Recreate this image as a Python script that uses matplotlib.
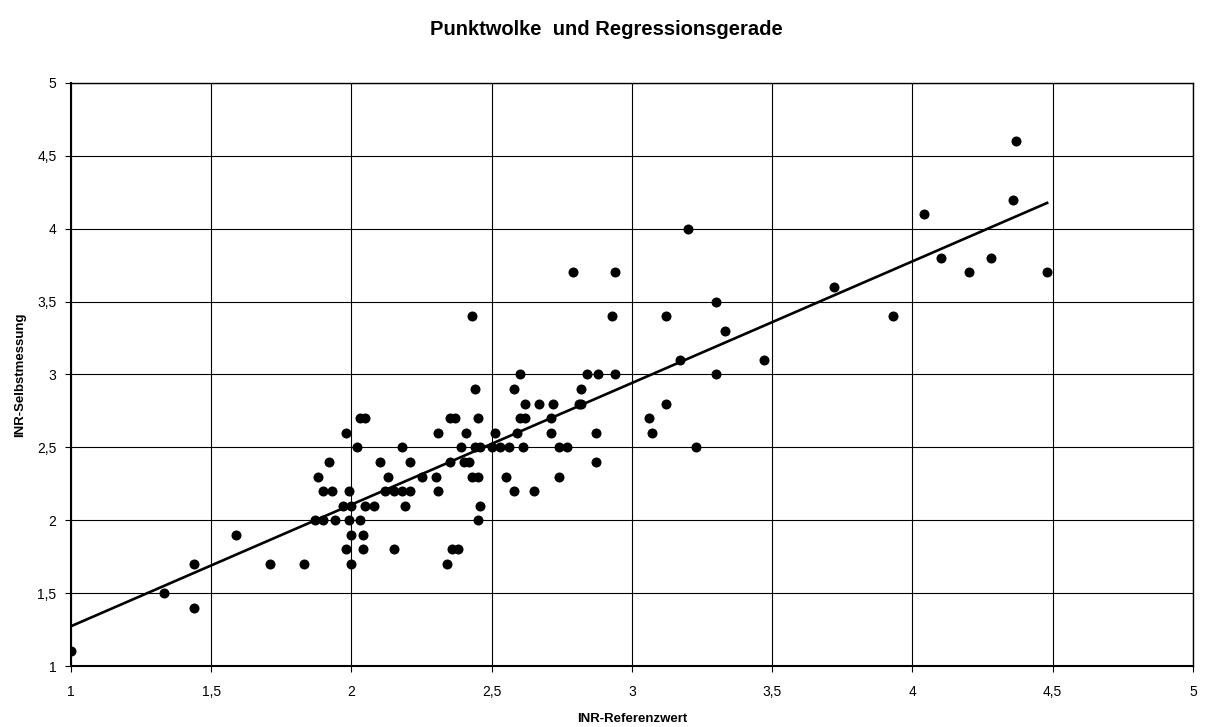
import numpy as np
import matplotlib
matplotlib.use("Agg")
import matplotlib.pyplot as plt

referenz = [
    1.00,
    1.44,
    1.33,
    1.44, 1.71, 1.83, 2.00, 2.34,
    1.98, 2.04, 2.15, 2.36, 2.38,
    1.59, 2.00, 2.04,
    1.87, 1.90, 1.94, 1.99, 2.03, 2.45,
    1.97, 2.00, 2.05, 2.08, 2.19, 2.46,
    1.90, 1.93, 1.99, 2.12, 2.15, 2.18, 2.21, 2.31, 2.58, 2.65,
    1.88, 2.13, 2.25, 2.30, 2.43, 2.45, 2.55, 2.74,
    1.92, 2.10, 2.21, 2.35, 2.40, 2.42, 2.87,
    2.02, 2.18, 2.39, 2.44, 2.46, 2.50, 2.53, 2.56, 2.61, 2.74, 2.77, 3.23,
    1.98, 2.31, 2.41, 2.51, 2.59, 2.71, 2.87, 3.07,
    2.03, 2.05, 2.35, 2.37, 2.45, 2.60, 2.62, 2.71, 3.06,
    2.62, 2.67, 2.72, 2.81, 2.82, 3.12,
    2.44, 2.58, 2.82,
    2.60, 2.84, 2.88, 2.94, 3.30,
    3.17, 3.47,
    3.33,
    2.43, 2.93, 3.12, 3.93,
    3.30,
    3.72,
    2.79, 2.94, 4.20, 4.48,
    4.10, 4.28,
    3.20,
    4.04,
    4.36,
    4.37,
]
selbst = (
    [1.1] * 1 + [1.4] * 1 + [1.5] * 1 + [1.7] * 5 + [1.8] * 5 + [1.9] * 3
    + [2.0] * 6 + [2.1] * 6 + [2.2] * 10 + [2.3] * 8 + [2.4] * 7
    + [2.5] * 12 + [2.6] * 8 + [2.7] * 9 + [2.8] * 6 + [2.9] * 3
    + [3.0] * 5 + [3.1] * 2 + [3.3] * 1 + [3.4] * 4 + [3.5] * 1
    + [3.6] * 1 + [3.7] * 4 + [3.8] * 2 + [4.0] * 1 + [4.1] * 1
    + [4.2] * 1 + [4.6] * 1
)

ticks = [1, 1.5, 2, 2.5, 3, 3.5, 4, 4.5, 5]
tick_labels = ["1", "1,5", "2", "2,5", "3", "3,5", "4", "4,5", "5"]

plt.rcParams['font.family'] = ['Liberation Sans', 'DejaVu Sans']

x = np.array(referenz)
y = np.array(selbst)

fig = plt.figure(figsize=(12.13, 7.27), dpi=100)
ax = fig.add_axes([0.0585, 0.0839, 0.925, 0.802])

ax.grid(True, color='black', linewidth=0.8)
ax.set_axisbelow(True)

ax.scatter(x, y, s=52, color='black', zorder=3, linewidths=0)

# Regressionsgerade
steigung, achse = np.polyfit(x, y, 1)
xl = np.array([x.min(), x.max()])
ax.plot(xl, achse + steigung * xl, color='black', linewidth=1.9, zorder=4)

ax.set_xlim(1, 5)
ax.set_ylim(1, 5)
ax.set_xticks(ticks)
ax.set_xticklabels(tick_labels)
ax.set_yticks(ticks)
ax.set_yticklabels(tick_labels)
ax.tick_params(direction='out', length=4, width=0.8, labelsize=10)
ax.tick_params(axis='x', pad=10)
ax.tick_params(axis='y', pad=6.5)

for s in ax.spines.values():
    s.set_color('black')
    s.set_linewidth(1.0)
ax.spines['left'].set_linewidth(1.5)
ax.spines['bottom'].set_linewidth(1.5)

fig.text(0.5, 1 - 35 / 727, "Punktwolke  und Regressionsgerade", ha='center',
         va='baseline', fontsize=14.5, fontweight='bold')
ax.set_xlabel("INR-Referenzwert", fontsize=9.5, fontweight='bold', labelpad=10)
ax.set_ylabel("INR-Selbstmessung", fontsize=9.5, fontweight='bold', labelpad=8)

fig.savefig("out.png", dpi=100)
